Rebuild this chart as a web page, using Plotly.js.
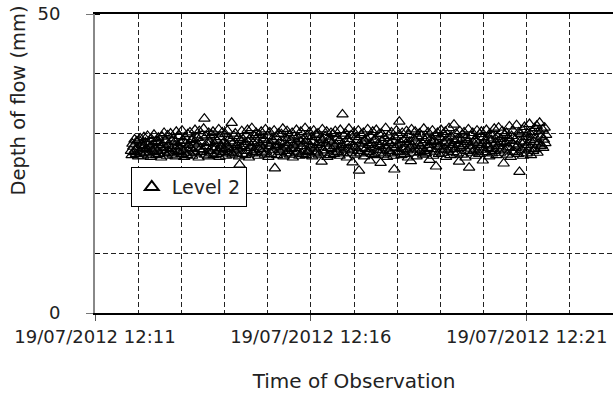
<!DOCTYPE html>
<html>
<head>
<meta charset="utf-8">
<script src="https://cdn.plot.ly/plotly-3.0.1.min.js"></script>
<style>html,body{margin:0;padding:0;background:#fff;}#chart{width:613px;height:394px;}</style>
</head>
<body>
<div id="chart"></div>
<script>
// Series: Level 2 depth of flow (mm), one reading per second from the start time
const seriesName = "Level 2";
const startTime = "2012-07-19 12:11:50";
const sampleSeconds = 1;
const depthValues = [
  27.1, 26.4, 28.3, 27.8, 26.9, 29.0, 27.3, 26.6, 28.7, 27.5, 26.2, 28.9, 27.0, 29.2, 26.7, 28.1, 27.6, 26.3, 29.4, 27.9,
  28.5, 26.8, 27.4, 29.6, 26.5, 28.2, 27.7, 26.1, 29.1, 28.0, 27.2, 26.9, 29.8, 27.5, 28.6, 26.4, 28.8, 27.1, 29.3, 26.6,
  28.4, 27.8, 26.0, 29.5, 28.1, 27.3, 30.1, 26.7, 28.9, 27.6, 26.3, 29.7, 28.2, 27.0, 26.8, 30.0, 27.4, 28.7, 26.5, 29.2,
  27.9, 28.6, 26.2, 30.3, 27.1, 28.0, 26.9, 29.6, 27.7, 28.4, 26.6, 30.5, 27.2, 28.8, 26.1, 29.4, 28.3, 27.5, 26.4, 29.9,
  28.1, 26.8, 30.2, 27.6, 28.9, 26.3, 29.1, 27.0, 28.5, 30.6, 26.7, 27.8, 29.3, 28.2, 26.0, 30.4, 27.4, 28.7, 26.9, 29.7,
  27.3, 30.8, 32.5, 26.5, 29.5, 27.9, 28.4, 26.2, 30.1, 27.1, 28.6, 26.8, 29.8, 27.7, 30.3, 26.4, 28.3, 27.5, 29.0, 26.6,
  28.8, 27.2, 30.7, 26.1, 29.4, 28.0, 27.6, 30.2, 26.9, 28.5, 27.4, 29.9, 26.3, 28.2, 30.5, 27.8, 26.7, 29.2, 28.7, 27.0,
  31.8, 26.5, 28.4, 29.6, 27.3, 30.0, 26.8, 28.1, 27.5, 29.3, 26.2, 24.8, 28.9, 27.7, 30.4, 26.6, 29.0, 27.9, 28.3, 26.4,
  29.7, 27.1, 30.6, 28.6, 26.0, 29.1, 27.6, 28.0, 30.9, 26.7, 28.4, 27.2, 29.5, 26.9, 30.1, 27.8, 28.7, 26.3, 29.8, 27.4,
  28.2, 30.3, 26.8, 27.5, 29.2, 28.9, 26.5, 30.7, 27.0, 28.5, 29.6, 26.1, 27.9, 30.2, 28.3, 26.6, 29.0, 27.3, 28.8, 30.5,
  24.2, 27.7, 29.4, 26.4, 28.1, 30.0, 27.2, 28.6, 26.9, 29.9, 27.5, 30.8, 26.2, 28.4, 27.8, 29.3, 26.7, 30.4, 28.0, 27.1,
  29.7, 26.5, 28.9, 27.4, 30.1, 26.0, 28.2, 29.5, 27.6, 26.8, 30.6, 28.5, 27.0, 29.1, 26.3, 28.7, 30.3, 27.9, 26.6, 29.0,
  28.3, 27.3, 30.9, 26.4, 28.8, 29.6, 27.1, 26.9, 30.2, 28.0, 27.7, 29.4, 26.2, 28.6, 30.5, 27.5, 26.7, 29.8, 28.1, 27.0,
  30.0, 26.5, 28.4, 29.2, 27.8, 25.3, 30.7, 28.9, 27.2, 26.8, 29.5, 28.3, 30.3, 26.1, 27.6, 29.0, 28.7, 26.4, 30.1, 27.4,
  28.5, 29.9, 26.6, 27.9, 30.4, 28.2, 26.9, 29.3, 27.0, 28.8, 26.3, 30.6, 27.7, 28.1, 33.2, 26.7, 29.6, 27.3, 30.0, 28.4,
  26.0, 29.1, 27.5, 30.8, 28.6, 26.8, 29.7, 27.2, 25.2, 28.0, 30.2, 27.8, 26.5, 29.4, 28.9, 27.1, 30.5, 23.8, 28.3, 26.7,
  29.8, 27.6, 28.5, 30.1, 26.2, 28.8, 27.4, 29.2, 26.9, 30.7, 28.1, 27.0, 25.5, 29.5, 28.4, 26.6, 30.3, 27.7, 28.9, 26.4,
  29.0, 30.6, 27.3, 28.2, 26.8, 29.9, 27.9, 25.1, 30.0, 28.6, 27.2, 26.5, 29.3, 28.0, 30.9, 27.5, 26.1, 28.7, 29.6, 27.1,
  28.4, 26.7, 30.2, 27.8, 28.8, 26.3, 24.0, 29.4, 27.6, 30.5, 28.1, 26.9, 29.7, 32.0, 27.0, 28.5, 26.4, 30.1, 27.4, 28.9,
  26.6, 29.1, 28.3, 30.4, 27.2, 26.0, 29.8, 28.6, 27.7, 25.4, 30.7, 28.0, 26.8, 29.2, 27.5, 30.3, 28.7, 26.2, 29.5, 27.3,
  28.2, 30.0, 26.9, 27.9, 29.6, 28.4, 26.5, 30.8, 27.1, 28.9, 26.7, 29.3, 27.6, 30.2, 28.1, 25.6, 29.0, 27.4, 28.6, 30.5,
  26.3, 28.8, 27.0, 29.7, 24.5, 28.3, 30.1, 27.8, 26.6, 29.4, 28.0, 30.6, 27.3, 26.8, 29.9, 28.5, 27.5, 30.3, 26.1, 28.7,
  29.2, 27.2, 30.9, 28.4, 26.4, 29.5, 27.7, 28.1, 26.9, 31.5, 28.8, 27.4, 30.0, 26.7, 29.1, 28.2, 25.3, 30.4, 27.6, 28.9,
  26.5, 29.8, 27.9, 30.2, 28.3, 26.0, 29.3, 27.1, 28.6, 30.7, 24.3, 28.0, 27.5, 29.6, 26.8, 30.1, 28.5, 27.2, 29.0, 26.3,
  28.7, 30.5, 27.0, 28.4, 26.6, 29.9, 27.8, 30.3, 28.1, 25.5, 29.4, 27.3, 28.8, 26.9, 30.6, 28.2, 27.6, 29.2, 26.2, 30.0,
  27.4, 28.9, 26.7, 29.7, 28.0, 30.8, 27.1, 28.5, 26.4, 29.5, 27.9, 31.0, 28.3, 26.8, 29.1, 27.5, 30.4, 28.6, 25.0, 29.8,
  27.2, 28.4, 30.1, 26.5, 29.3, 27.7, 31.2, 28.8, 26.1, 29.6, 27.0, 30.5, 28.2, 26.9, 29.0, 27.6, 31.4, 28.0, 26.6, 30.2,
  23.6, 28.7, 29.9, 27.3, 30.6, 26.3, 28.5, 31.1, 27.8, 29.4, 26.7, 30.0, 28.1, 27.5, 31.6, 28.9, 26.4, 29.7, 30.3, 27.1,
  28.6, 30.9, 27.4, 29.2, 31.3, 26.8, 28.3, 30.4, 31.8, 27.9, 29.5, 28.0, 30.7, 27.6, 29.0, 31.0, 28.4, 29.8
];
const xRange = ["2012-07-19 12:11:00", "2012-07-19 12:23:00"];
const xTickVals = ["2012-07-19 12:11:00", "2012-07-19 12:16:00", "2012-07-19 12:21:00"];
const xTickText = ["19/07/2012 12:11", "19/07/2012 12:16", "19/07/2012 12:21"];
const yRange = [0, 50];
const yTickVals = [0, 50];
const xTitle = "Time of Observation";
const yTitle = "Depth of flow (mm)";

function pad(n){return (n<10?"0":"")+n;}
const t0 = new Date(startTime.replace(" ", "T") + "Z").getTime();
const times = depthValues.map((v, i) => {
  const d = new Date(t0 + i * sampleSeconds * 1000);
  return d.getUTCFullYear() + "-" + pad(d.getUTCMonth()+1) + "-" + pad(d.getUTCDate()) + " " +
         pad(d.getUTCHours()) + ":" + pad(d.getUTCMinutes()) + ":" + pad(d.getUTCSeconds());
});

const FONT = "DejaVu Sans";
const GRIDDASH = "5px,3px";
const trace = {
  type: "scatter",
  mode: "markers",
  name: seriesName,
  x: times,
  y: depthValues,
  marker: {symbol: "triangle-up-open", size: 10, color: "#000", line: {width: 1.2, color: "#000"}},
  showlegend: true
};

const layout = {
  width: 613, height: 394,
  margin: {l: 95, r: 0, t: 14, b: 81},
  paper_bgcolor: "#fff", plot_bgcolor: "#fff",
  font: {family: FONT, size: 18, color: "#222"},
  showlegend: true,
  legend: {
    x: 0.069, y: 0.488, xanchor: "left", yanchor: "top",
    bgcolor: "#fff", bordercolor: "#000", borderwidth: 1,
    font: {family: FONT, size: 19, color: "#222"},
    itemsizing: "constant"
  },
  xaxis: {
    type: "date",
    range: xRange,
    tickmode: "array",
    tickvals: xTickVals,
    ticktext: xTickText,
    ticks: "outside", ticklen: 6, tickcolor: "#555", tickwidth: 1,
    showline: true, linecolor: "#000", linewidth: 2, mirror: true,
    showgrid: true, gridcolor: "#222", griddash: GRIDDASH, gridwidth: 1,
    minor: {dtick: 60000, tick0: "2012-07-19 12:11:00", showgrid: true, gridcolor: "#222", griddash: GRIDDASH, gridwidth: 1, ticks: ""},
    zeroline: false,
    tickfont: {family: FONT, size: 18, color: "#222"},
    title: {text: xTitle, font: {family: FONT, size: 20, color: "#222"}, standoff: 28}
  },
  yaxis: {
    range: yRange,
    tickmode: "array",
    tickvals: yTickVals,
    ticks: "outside", ticklen: 7, tickcolor: "#777", tickwidth: 1,
    ticklabelstandoff: 22,
    showline: true, linecolor: "#888", linewidth: 2, mirror: false,
    showgrid: false,
    minor: {dtick: 10, tick0: 0, showgrid: true, gridcolor: "#222", griddash: GRIDDASH, gridwidth: 1, ticks: "inside", ticklen: 5, tickcolor: "#000"},
    zeroline: false,
    tickfont: {family: FONT, size: 18, color: "#222"}
  },
  annotations: [{
    text: yTitle, textangle: -90, showarrow: false,
    xref: "paper", yref: "paper", x: -0.148, y: 0.712, xanchor: "center", yanchor: "middle",
    font: {family: FONT, size: 19.5, color: "#222"}
  }]
};

Plotly.newPlot("chart", [trace], layout, {displayModeBar: false, staticPlot: true});
</script>
</body>
</html>
